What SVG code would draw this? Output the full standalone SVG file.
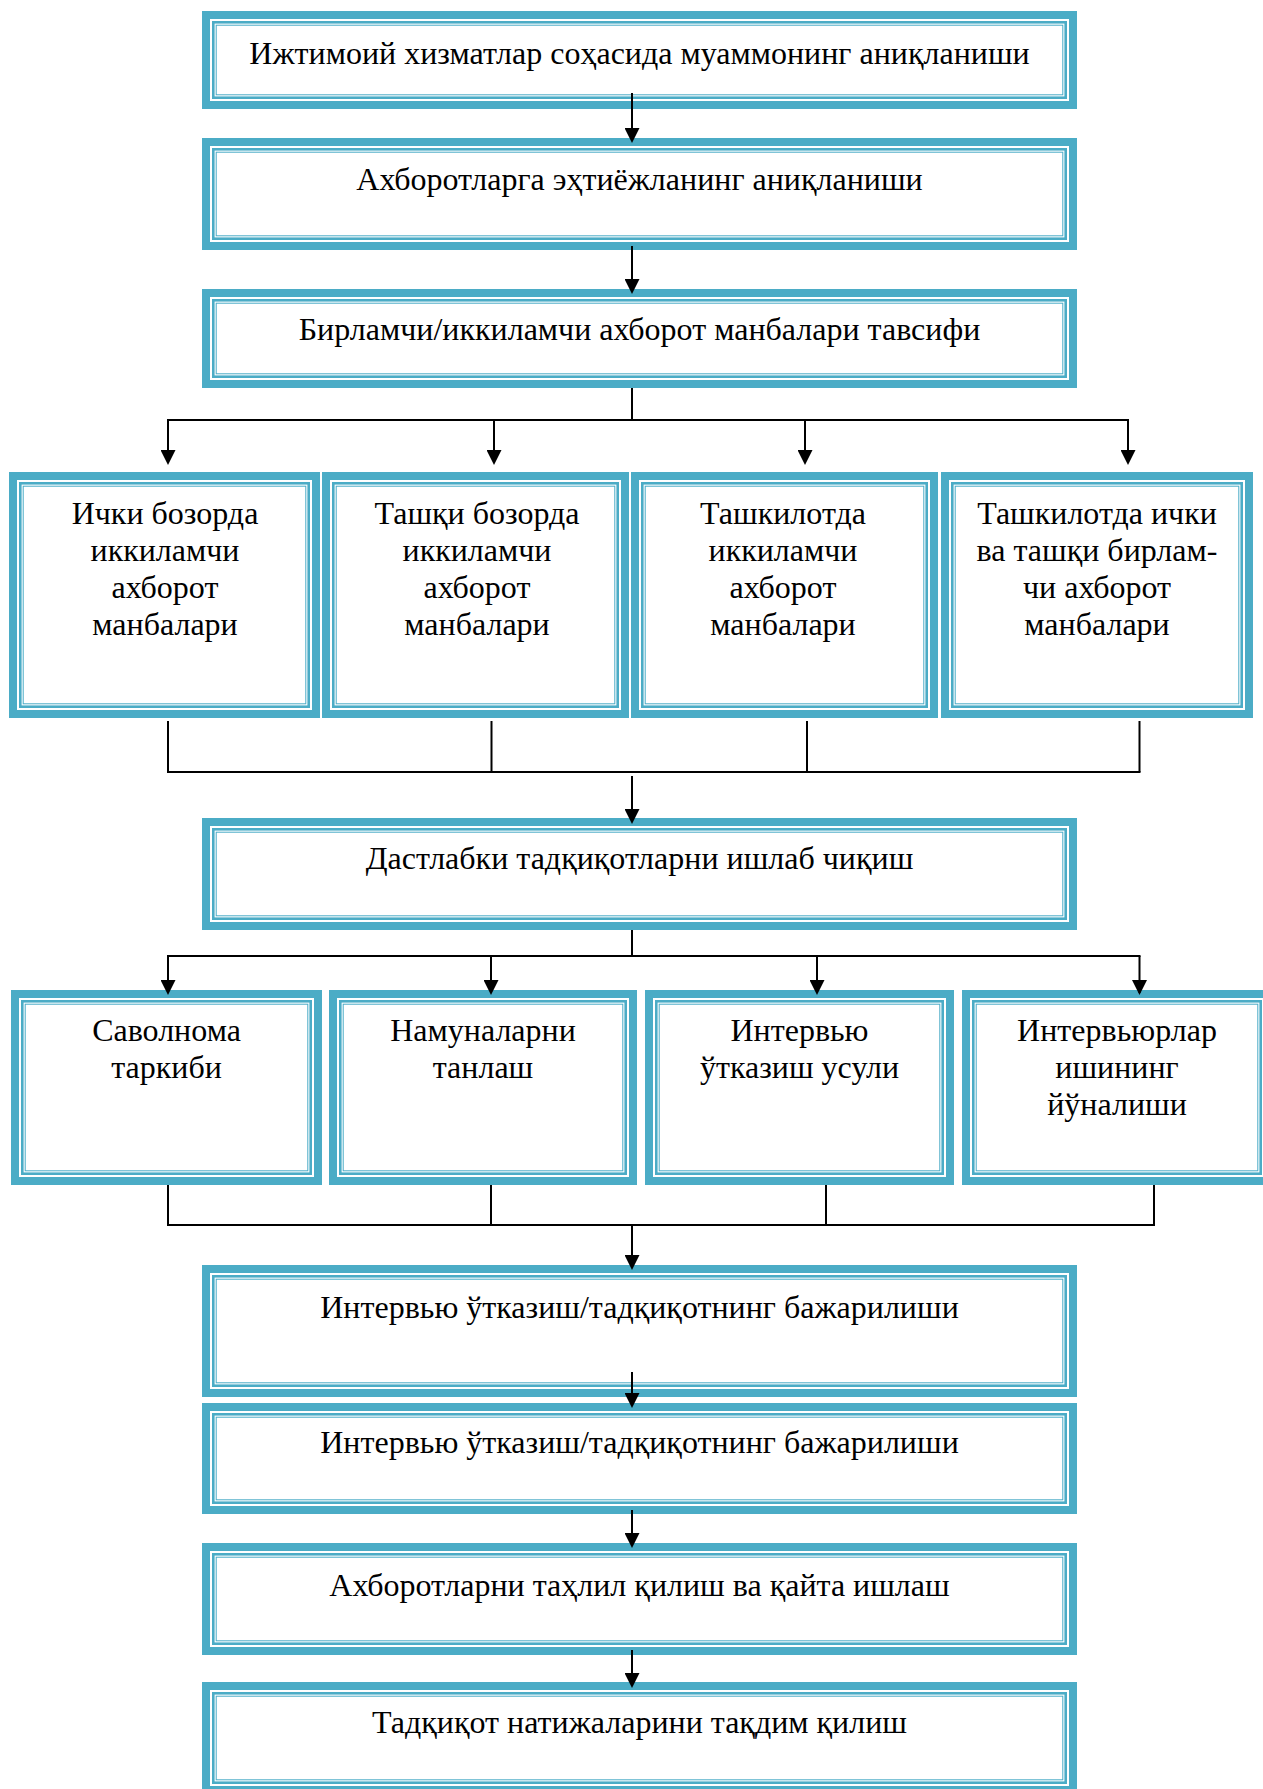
<svg xmlns="http://www.w3.org/2000/svg" width="1263" height="1789" viewBox="0 0 1263 1789">
<defs>
<style>
.b1{fill:#fff;stroke:#4BACC6;stroke-width:8}
.b2{fill:none;stroke:#4BACC6;stroke-width:2.6}
.b3{fill:none;stroke:#4BACC6;stroke-width:1}
.t{font-family:"Liberation Serif","Times New Roman",serif;font-size:32px;fill:#000;text-anchor:middle}
.c{fill:none;stroke:#000;stroke-width:2}
</style>
<marker id="ah" markerUnits="userSpaceOnUse" markerWidth="15" markerHeight="15" refX="13" refY="7.5" orient="auto">
<path d="M0,0 L15,7.5 L0,15 z" fill="#000"/>
</marker>
</defs>
<rect width="1263" height="1789" fill="#fff"/>

<g id="n1">
<rect class="b1" x="206" y="15" width="867" height="90"/>
<rect class="b2" x="213.3" y="22.3" width="852.4" height="75.4"/>
<rect class="b3" x="216.2" y="25.2" width="846.6" height="69.6"/>
<text class="t" x="639.5" y="64">Ижтимоий хизматлар соҳасида муаммонинг аниқланиши</text>
</g>

<g id="n2">
<rect class="b1" x="206" y="142" width="867" height="104"/>
<rect class="b2" x="213.3" y="149.3" width="852.4" height="89.4"/>
<rect class="b3" x="216.2" y="152.2" width="846.6" height="83.6"/>
<text class="t" x="639.5" y="190">Ахборотларга эҳтиёжланинг аниқланиши</text>
</g>

<g id="n3">
<rect class="b1" x="206" y="293" width="867" height="91"/>
<rect class="b2" x="213.3" y="300.3" width="852.4" height="76.4"/>
<rect class="b3" x="216.2" y="303.2" width="846.6" height="70.6"/>
<text class="t" x="639.5" y="340">Бирламчи/иккиламчи ахборот манбалари тавсифи</text>
</g>

<g id="nA">
<rect class="b1" x="13" y="476" width="303" height="238"/>
<rect class="b2" x="20.3" y="483.3" width="288.4" height="223.4"/>
<rect class="b3" x="23.2" y="486.2" width="282.6" height="217.6"/>
<text class="t" x="165" y="524">Ички бозорда</text>
<text class="t" x="165" y="561">иккиламчи</text>
<text class="t" x="165" y="598">ахборот</text>
<text class="t" x="165" y="635">манбалари</text>
</g>

<g id="nB">
<rect class="b1" x="326" y="476" width="299" height="238"/>
<rect class="b2" x="333.3" y="483.3" width="284.4" height="223.4"/>
<rect class="b3" x="336.2" y="486.2" width="278.6" height="217.6"/>
<text class="t" x="477" y="524">Ташқи бозорда</text>
<text class="t" x="477" y="561">иккиламчи</text>
<text class="t" x="477" y="598">ахборот</text>
<text class="t" x="477" y="635">манбалари</text>
</g>

<g id="nC">
<rect class="b1" x="635" y="476" width="299" height="238"/>
<rect class="b2" x="642.3" y="483.3" width="284.4" height="223.4"/>
<rect class="b3" x="645.2" y="486.2" width="278.6" height="217.6"/>
<text class="t" x="783" y="524">Ташкилотда</text>
<text class="t" x="783" y="561">иккиламчи</text>
<text class="t" x="783" y="598">ахборот</text>
<text class="t" x="783" y="635">манбалари</text>
</g>

<g id="nD">
<rect class="b1" x="945" y="476" width="304" height="238"/>
<rect class="b2" x="952.3" y="483.3" width="289.4" height="223.4"/>
<rect class="b3" x="955.2" y="486.2" width="283.6" height="217.6"/>
<text class="t" x="1097" y="524">Ташкилотда ички</text>
<text class="t" x="1097" y="561">ва ташқи бирлам-</text>
<text class="t" x="1097" y="598">чи ахборот</text>
<text class="t" x="1097" y="635">манбалари</text>
</g>

<g id="n5">
<rect class="b1" x="206" y="822" width="867" height="104"/>
<rect class="b2" x="213.3" y="829.3" width="852.4" height="89.4"/>
<rect class="b3" x="216.2" y="832.2" width="846.6" height="83.6"/>
<text class="t" x="639.5" y="869">Дастлабки тадқиқотларни ишлаб чиқиш</text>
</g>

<g id="nE">
<rect class="b1" x="15" y="994" width="303" height="187"/>
<rect class="b2" x="22.3" y="1001.3" width="288.4" height="172.4"/>
<rect class="b3" x="25.2" y="1004.2" width="282.6" height="166.6"/>
<text class="t" x="166.5" y="1041">Саволнома</text>
<text class="t" x="166.5" y="1078">таркиби</text>
</g>

<g id="nF">
<rect class="b1" x="333" y="994" width="300" height="187"/>
<rect class="b2" x="340.3" y="1001.3" width="285.4" height="172.4"/>
<rect class="b3" x="343.2" y="1004.2" width="279.6" height="166.6"/>
<text class="t" x="483" y="1041">Намуналарни</text>
<text class="t" x="483" y="1078">танлаш</text>
</g>

<g id="nG">
<rect class="b1" x="649" y="994" width="301" height="187"/>
<rect class="b2" x="656.3" y="1001.3" width="286.4" height="172.4"/>
<rect class="b3" x="659.2" y="1004.2" width="280.6" height="166.6"/>
<text class="t" x="799.5" y="1041">Интервью</text>
<text class="t" x="799.5" y="1078">ўтказиш усули</text>
</g>

<g id="nH">
<rect class="b1" x="966" y="994" width="302" height="187"/>
<rect class="b2" x="973.3" y="1001.3" width="287.4" height="172.4"/>
<rect class="b3" x="976.2" y="1004.2" width="281.6" height="166.6"/>
<text class="t" x="1117" y="1041">Интервьюрлар</text>
<text class="t" x="1117" y="1078">ишининг</text>
<text class="t" x="1117" y="1115">йўналиши</text>
</g>

<g id="n7">
<rect class="b1" x="206" y="1269" width="867" height="124"/>
<rect class="b2" x="213.3" y="1276.3" width="852.4" height="109.4"/>
<rect class="b3" x="216.2" y="1279.2" width="846.6" height="103.6"/>
<text class="t" x="639.5" y="1318">Интервью ўтказиш/тадқиқотнинг бажарилиши</text>
</g>

<g id="n8">
<rect class="b1" x="206" y="1407" width="867" height="103"/>
<rect class="b2" x="213.3" y="1414.3" width="852.4" height="88.4"/>
<rect class="b3" x="216.2" y="1417.2" width="846.6" height="82.6"/>
<text class="t" x="639.5" y="1453">Интервью ўтказиш/тадқиқотнинг бажарилиши</text>
</g>

<g id="n9">
<rect class="b1" x="206" y="1547" width="867" height="104"/>
<rect class="b2" x="213.3" y="1554.3" width="852.4" height="89.4"/>
<rect class="b3" x="216.2" y="1557.2" width="846.6" height="83.6"/>
<text class="t" x="639.5" y="1596">Ахборотларни таҳлил қилиш ва қайта ишлаш</text>
</g>

<g id="n10">
<rect class="b1" x="206" y="1686" width="867" height="104"/>
<rect class="b2" x="213.3" y="1693.3" width="852.4" height="89.4"/>
<rect class="b3" x="216.2" y="1696.2" width="846.6" height="83.6"/>
<text class="t" x="639.5" y="1733">Тадқиқот натижаларини тақдим қилиш</text>
</g>

<g id="connectors">
<line class="c" x1="632" y1="93" x2="632" y2="141" marker-end="url(#ah)"/>
<line class="c" x1="632" y1="246" x2="632" y2="292" marker-end="url(#ah)"/>

<line class="c" x1="632" y1="388" x2="632" y2="420"/>
<line class="c" x1="167" y1="420" x2="1129" y2="420"/>
<line class="c" x1="168" y1="420" x2="168" y2="463" marker-end="url(#ah)"/>
<line class="c" x1="494" y1="420" x2="494" y2="463" marker-end="url(#ah)"/>
<line class="c" x1="805" y1="420" x2="805" y2="463" marker-end="url(#ah)"/>
<line class="c" x1="1128" y1="420" x2="1128" y2="463" marker-end="url(#ah)"/>

<line class="c" x1="168" y1="721" x2="168" y2="772"/>
<line class="c" x1="491.5" y1="721" x2="491.5" y2="772"/>
<line class="c" x1="807" y1="721" x2="807" y2="772"/>
<line class="c" x1="1139.5" y1="721" x2="1139.5" y2="772"/>
<line class="c" x1="167" y1="772" x2="1140.5" y2="772"/>
<line class="c" x1="632" y1="776" x2="632" y2="822" marker-end="url(#ah)"/>

<line class="c" x1="632" y1="930" x2="632" y2="956"/>
<line class="c" x1="167" y1="956" x2="1140.5" y2="956"/>
<line class="c" x1="168" y1="956" x2="168" y2="993" marker-end="url(#ah)"/>
<line class="c" x1="491" y1="956" x2="491" y2="993" marker-end="url(#ah)"/>
<line class="c" x1="817" y1="956" x2="817" y2="993" marker-end="url(#ah)"/>
<line class="c" x1="1139.5" y1="956" x2="1139.5" y2="993" marker-end="url(#ah)"/>

<line class="c" x1="168" y1="1185" x2="168" y2="1225"/>
<line class="c" x1="491" y1="1185" x2="491" y2="1225"/>
<line class="c" x1="826" y1="1185" x2="826" y2="1225"/>
<line class="c" x1="1154" y1="1185" x2="1154" y2="1225"/>
<line class="c" x1="167" y1="1225" x2="1155" y2="1225"/>
<line class="c" x1="632" y1="1225" x2="632" y2="1268" marker-end="url(#ah)"/>

<line class="c" x1="632" y1="1372" x2="632" y2="1406" marker-end="url(#ah)"/>
<line class="c" x1="632" y1="1510" x2="632" y2="1546" marker-end="url(#ah)"/>
<line class="c" x1="632" y1="1650" x2="632" y2="1686" marker-end="url(#ah)"/>
</g>
</svg>
